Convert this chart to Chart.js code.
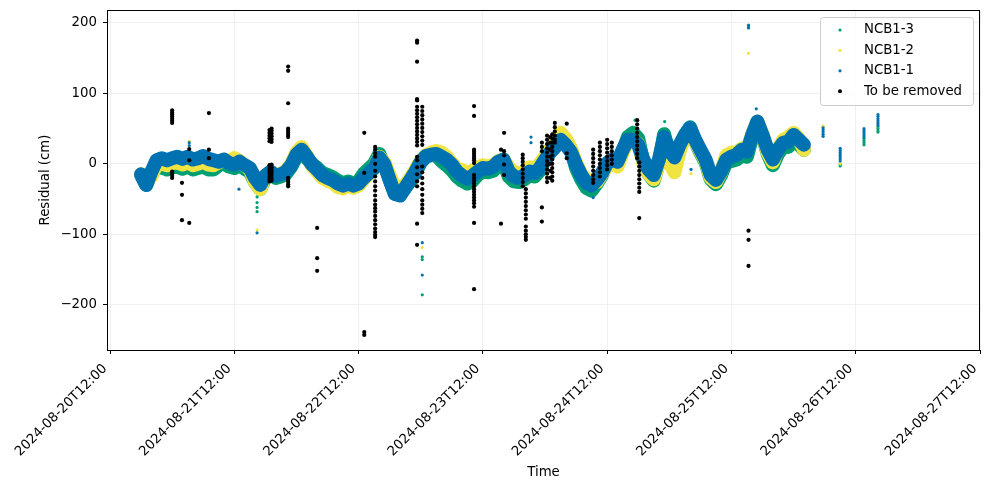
<!DOCTYPE html>
<html>
<head>
<meta charset="utf-8">
<script src="https://cdn.jsdelivr.net/npm/chart.js@4.4.1/dist/chart.umd.min.js"></script>
<style>
  html, body { margin: 0; padding: 0; background: #fff; }
  #wrap { width: 989px; height: 490px; }
</style>
</head>
<body>
<div id="wrap"><canvas id="chart" width="989" height="490"></canvas></div>
<script>
// x values are hours since 2024-08-20T12:00
const tickHours = [0, 24, 48, 72, 96, 120, 144, 168];
const tickLabels = ['2024-08-20T12:00', '2024-08-21T12:00', '2024-08-22T12:00', '2024-08-23T12:00',
  '2024-08-24T12:00', '2024-08-25T12:00', '2024-08-26T12:00', '2024-08-27T12:00'];
const yTicks = [-200, -100, 0, 100, 200];

// continuous record, one reading per hour from this hour on
const bandStartHour = 6;

const ncb1_1 = [
  -15, -30, -11, 5, 8, 5, 8, 10, 7, 10,
  6, 8, 11, 7, 5, 3, 6, 1, -1, 3,
  -2, -6, -20, -30, -17, -11, -17, -15, -11, -2,
  13, 20, 10, -1, -8, -16, -20, -23, -28, -31,
  -28, -31, -28, -20, -13, -6, 9, -1, -23, -43,
  -45, -34, -23, -11, 3, 11, 13, 14, 10, 6,
  -1, -11, -17, -21, -17, -11, -6, -7, -4, 3,
  6, -11, -18, -20, -17, -11, -13, -6, 6, 16,
  24, 34, 27, 17, -1, -16, -27, -31, -23, -13,
  1, 6, 3, 20, 34, 34, 27, 6, -8, -16,
  6, 38, 20, 9, 27, 41, 51, 34, 20, 6,
  -16, -23, -11, 6, 10, 13, 20, 17, 41, 60,
  41, 20, 6, 20, 30, 31, 41, 34, 27
];

const ncb1_2 = [
  -15, -25, -18, 0, 0, -2, 1, 2, -1, 2,
  -2, 0, 3, -1, -2, 2, 6, 4, 8, 4,
  -2, -8, -26, -36, -17, -11, -16, -14, -10, 0,
  16, 24, 12, -3, -11, -20, -24, -27, -33, -35,
  -31, -34, -31, -22, -14, -6, 10, 2, -16, -34,
  -38, -30, -20, -8, 4, 12, 16, 18, 16, 10,
  1, -7, -9, -13, -10, -6, -2, -4, -2, 4,
  6, -5, -12, -14, -11, -5, -7, 0, 10, 20,
  30, 44, 36, 22, 2, -14, -22, -28, -26, -14,
  -4, 0, -4, 16, 32, 34, 28, 0, -14, -22,
  0, 30, 2, -12, 18, 38, 50, 32, 18, 4,
  -20, -26, -12, 12, 16, 16, 22, 18, 42, 60,
  42, 16, 2, 22, 34, 38, 44, 36, 20
];

const ncb1_3 = [
  -16, -30, -13, -6, -5, -8, -5, -4, -7, -4,
  -8, -6, -4, -8, -8, -2, 1, -4, -6, -2,
  -7, -11, -26, -36, -20, -14, -20, -18, -14, -4,
  10, 18, 8, 0, -6, -13, -16, -19, -24, -28,
  -25, -28, -25, -14, -7, 0, 14, -2, -22, -42,
  -44, -34, -24, -12, 2, 10, 12, 12, 4, -2,
  -9, -18, -24, -28, -24, -16, -11, -12, -10, -2,
  2, -18, -25, -26, -22, -16, -18, -10, 6, 20,
  32, 42, 34, 20, -6, -22, -34, -38, -28, -16,
  0, 4, 1, 18, 38, 44, 36, 2, -14, -24,
  2, 42, 14, 2, 24, 40, 52, 32, 16, 2,
  -22, -29, -16, 2, 4, 6, 12, 10, 38, 58,
  40, 14, -2, 14, 24, 24, 34, 28, 20
];

// spikes and the short bursts after the main record: [hour, value]
const ncb1_1Extra = [
  [15.3, 26], [15.3, 30], [24.9, -36], [28.4, -98], [60.3, -112], [60.3, -158],
  [81.3, 30], [81.3, 38], [93.3, -48], [112.2, -8], [123.3, 193], [123.3, 196], [124.8, 78],
  [137.7, 51], [137.7, 48], [137.7, 45], [137.7, 42], [137.7, 39],
  [141.0, 22], [141.0, 19], [141.0, 16], [141.0, 13], [141.0, 10], [141.0, 7], [141.0, 4],
  [145.6, 50], [145.6, 47], [145.6, 44], [145.6, 41], [145.6, 38],
  [148.3, 70], [148.3, 67], [148.3, 64], [148.3, 61], [148.3, 58], [148.3, 55]
];
const ncb1_2Extra = [
  [15.3, 32], [28.4, -42], [28.4, -94], [60.3, -119], [112.2, -14], [123.3, 157],
  [137.7, 54], [137.7, 52], [141.0, 2], [141.0, 0], [148.3, 57]
];
const ncb1_3Extra = [
  [28.4, -47], [28.4, -55], [28.4, -62], [28.4, -68], [60.3, -132], [60.3, -136], [60.3, -186],
  [101.4, 62], [107.1, 60], [123.3, 197], [141.0, -1], [141.0, -3],
  [145.6, 36], [145.6, 33], [145.6, 30], [145.6, 27],
  [148.3, 53], [148.3, 50], [148.3, 47], [148.3, 45]
];

// flagged readings, grouped by hour
const removedHours = [12.0, 13.9, 15.3, 19.1, 30.8, 31.2, 34.4, 40.0, 49.1, 51.2, 59.3, 60.3,
  70.3, 75.5, 76.1, 79.7, 80.3, 83.4, 84.4, 85.0, 85.4, 85.9, 88.2, 93.3, 94.6, 96.0, 96.9,
  101.8, 102.2, 123.3];
const removedValues = [
  [76, 73, 70, 67, 64, 61, 58, -11, -14, -17, -20],
  [-27, -44, -80],
  [21, 5, -84],
  [72, 20, 8],
  [48, 44, 40, 36, 32, -2, -6, -10, -14, -18, -22, -25],
  [50, 47, 43, 39, 35, 31, -1, -5, -9, -13, -17, -21, -24],
  [138, 132, 86, 50, 47, 44, 41, 38, -20, -23, -26, -29, -32],
  [-91, -134, -152],
  [44, -13, -239, -243],
  [24, 20, 15, 10, 0, -10, -18, -25, -32, -38, -45, -52, -58, -63, -68, -74, -80, -86, -92, -97, -101, -104],
  [175, 172, 145, 92, 90, 81, 76, 71, 66, 61, 56, 51, 46, 41, 36, 31, 26, 10, 5, -5, -15, -25, -32, -85, -115],
  [81, 75, 69, 63, 57, 51, 45, 39, 33, 27, -4, -12, -20, -28, -36, -44, -52, -58, -64, -70],
  [82, 68, 20, 17, 14, 11, 8, 5, 1, -16, -20, -24, -28, -32, -36, -40, -44, -48, -52, -56, -61, -84, -178],
  [20, -85],
  [44, 18, 12, -1, -16],
  [13, 8, 3, -2, -8, -14, -20, -26, -32],
  [-36, -42, -48, -54, -60, -66, -72, -78, -89, -95, -100, -104, -108],
  [30, 24, 18, -62, -82],
  [40, 34, 28, 22, 16, 10, 4, -2, -8, -14, -20, -26],
  [38, 30, 20, 10, 0, -10, -20],
  [42, 36, 30, 24, 18, 12, 6, 0, -6, -12, -18, -24],
  [58, 52, 46, 40, 34, 30],
  [57, 15, 8],
  [20, 14, 8, 2, -4, -10, -16, -22, -27],
  [30, 24, 18, 12, 6, 0, -6, -12, -18],
  [34, 28, 22, 16, 10, 4, -2, -8],
  [30, 24, 18, 12, 6, 0],
  [62, 56, 50, 44, 38, 32, 26, 20, 14, 8],
  [2, -4, -10, -16, -22, -28, -34, -40, -77],
  [-95, -108, -145]
];

const GREEN = '#009e73';
const YELLOW = '#f0e442';
const BLUE = '#0072b2';

const band = arr => arr.map((v, i) => ({ x: bandStartHour + i, y: v }));
const pts = arr => arr.map(([x, y]) => ({ x, y }));
const removed = removedHours.flatMap((h, i) => removedValues[i].map(v => ({ x: h, y: v })));

const legendItems = [
  { text: 'NCB1-3', color: GREEN, r: 1.6 },
  { text: 'NCB1-2', color: YELLOW, r: 1.6 },
  { text: 'NCB1-1', color: BLUE, r: 1.6 },
  { text: 'To be removed', color: '#000', r: 2 }
];

const frame = {
  id: 'frame',
  afterDatasetsDraw(chart) {
    const { ctx, chartArea: a } = chart;
    ctx.save();
    ctx.strokeStyle = '#000';
    ctx.lineWidth = 1;
    ctx.strokeRect(Math.round(a.left) + 0.5, Math.round(a.top) + 0.5,
      Math.round(a.right - a.left) - 1, Math.round(a.bottom - a.top));
    ctx.restore();
  }
};

const boxLegend = {
  id: 'boxLegend',
  afterDraw(chart) {
    const { ctx, chartArea: a } = chart;
    const w = 153, h = 88;
    const x = a.right - 7 - w, y = a.top + 7;
    ctx.save();
    ctx.beginPath();
    ctx.roundRect(x + 0.5, y + 0.5, w, h, 3);
    ctx.fillStyle = 'rgba(255,255,255,0.8)';
    ctx.fill();
    ctx.strokeStyle = '#cccccc';
    ctx.lineWidth = 1;
    ctx.stroke();
    ctx.font = '13.3px "DejaVu Sans"';
    ctx.textBaseline = 'middle';
    legendItems.forEach((it, i) => {
      const cy = y + 13 + i * 20.4;
      ctx.beginPath();
      ctx.arc(x + 20, cy, it.r, 0, Math.PI * 2);
      ctx.fillStyle = it.color;
      ctx.fill();
      ctx.fillStyle = '#000';
      ctx.fillText(it.text, x + 44, cy);
    });
    ctx.restore();
  }
};

Chart.defaults.font.family = '"DejaVu Sans", sans-serif';
Chart.defaults.font.size = 13.3;
Chart.defaults.color = '#000';

const lineSet = (label, data, color, order) => ({
  label, data, showLine: true, borderColor: color, backgroundColor: color, borderWidth: 14,
  borderJoinStyle: 'round', borderCapStyle: 'round', pointRadius: 0, tension: 0, order
});
const dotSet = (label, data, color, r, order) => ({
  label, data, showLine: false, backgroundColor: color, borderWidth: 0,
  pointRadius: r, pointHoverRadius: r, order
});

new Chart(document.getElementById('chart'), {
  type: 'scatter',
  data: {
    datasets: [
      lineSet('NCB1-3', band(ncb1_3), GREEN, 10),
      dotSet('NCB1-3 extra', pts(ncb1_3Extra), GREEN, 1.6, 9),
      lineSet('NCB1-2', band(ncb1_2), YELLOW, 8),
      dotSet('NCB1-2 extra', pts(ncb1_2Extra), YELLOW, 1.6, 7),
      lineSet('NCB1-1', band(ncb1_1), BLUE, 6),
      dotSet('NCB1-1 extra', pts(ncb1_1Extra), BLUE, 1.6, 5),
      dotSet('To be removed', removed, '#000', 2.1, 1)
    ]
  },
  options: {
    responsive: false,
    animation: false,
    devicePixelRatio: 1,
    layout: { padding: { top: 10, right: 9, bottom: 0, left: 0 } },
    plugins: { legend: { display: false }, tooltip: { enabled: false } },
    scales: {
      x: {
        type: 'linear', min: -0.58, max: 168,
        afterBuildTicks: ax => { ax.ticks = tickHours.map(v => ({ value: v })); },
        afterFit: s => { s.height = 140; s.paddingLeft = 0; s.paddingRight = 0; },
        ticks: {
          autoSkip: false, minRotation: 45, maxRotation: 45, padding: 7, labelOffset: -5, color: '#000',
          callback: v => tickLabels[tickHours.indexOf(v)]
        },
        grid: { color: '#ececec', lineWidth: 0.8, tickColor: '#000', tickWidth: 1, tickLength: 4 },
        border: { display: false },
        title: { display: true, text: 'Time', color: '#000', padding: { top: 0, bottom: 9 } }
      },
      y: {
        min: -264.4, max: 218.4,
        afterBuildTicks: ax => { ax.ticks = yTicks.map(v => ({ value: v })); },
        afterFit: s => { s.width = 107; s.paddingTop = 0; s.paddingBottom = 0; },
        ticks: { padding: 6, color: '#000', callback: v => String(v).replace('-', '\u2212') },
        grid: { color: '#ececec', lineWidth: 0.8, tickColor: '#000', tickWidth: 1, tickLength: 4 },
        border: { display: false },
        title: { display: true, text: 'Residual (cm)', color: '#000', padding: { top: 38, bottom: 0 } }
      }
    }
  },
  plugins: [frame, boxLegend]
});
</script>
</body>
</html>
